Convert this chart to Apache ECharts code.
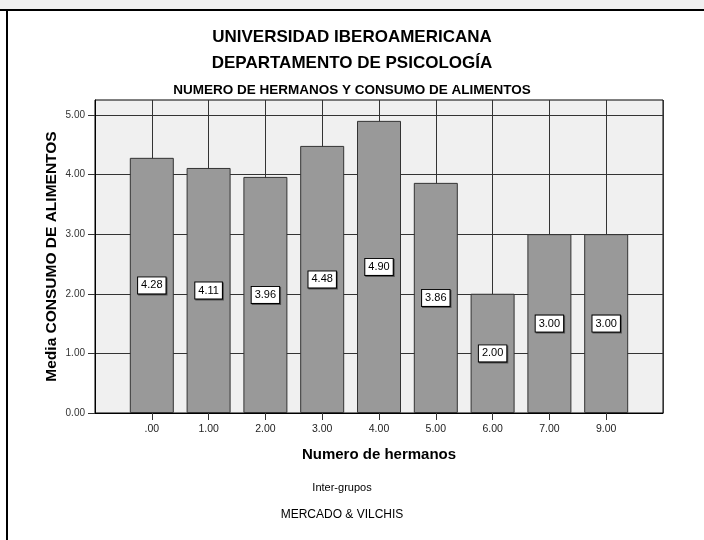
<!DOCTYPE html>
<html><head><meta charset="utf-8">
<script src="https://cdn.jsdelivr.net/npm/echarts@6/dist/echarts.min.js"></script>
<style>html,body{margin:0;padding:0;background:#fff}#c{width:704px;height:540px}</style>
</head><body><div id="c"></div>
<script>
const categories = ['.00','1.00','2.00','3.00','4.00','5.00','6.00','7.00','9.00'];
const means = [4.28, 4.11, 3.96, 4.48, 4.90, 3.86, 2.00, 3.00, 3.00];
const yTicks = [0, 1, 2, 3, 4, 5];

const axisCats = [''].concat(categories, ['']);
const barData = ['-'].concat(means, ['-']);
const FONT = '"Liberation Sans", Arial, sans-serif';

const chart = echarts.init(document.getElementById('c'), null, {renderer: 'canvas'});
chart.setOption({
  animation: false,
  backgroundColor: '#fff',
  textStyle: {fontFamily: FONT},
  title: [
    {text: 'UNIVERSIDAD IBEROAMERICANA', left: 'center', top: 24,
     textStyle: {fontFamily: FONT, fontSize: 17, fontWeight: 'bold', color: '#000'}},
    {text: 'DEPARTAMENTO DE PSICOLOGÍA', left: 'center', top: 50,
     textStyle: {fontFamily: FONT, fontSize: 17, fontWeight: 'bold', color: '#000'}},
    {text: 'NUMERO DE HERMANOS Y CONSUMO DE ALIMENTOS', left: 'center', top: 78,
     textStyle: {fontFamily: FONT, fontSize: 13.5, fontWeight: 'bold', color: '#000'}}
  ],
  graphic: [
    {type: 'rect', shape: {x: 0, y: 0, width: 704, height: 9}, style: {fill: '#f0f0f0'}, silent: true},
    {type: 'rect', shape: {x: 0, y: 9, width: 704, height: 2}, style: {fill: '#000'}, silent: true},
    {type: 'rect', shape: {x: 6, y: 9, width: 2, height: 531}, style: {fill: '#000'}, silent: true},
    {type: 'text', x: 342, y: 488, style: {text: 'Inter-grupos', fontFamily: FONT, fontSize: 11, fill: '#000', textAlign: 'center', textVerticalAlign: 'middle'}},
    {type: 'text', x: 342, y: 515, style: {text: 'MERCADO & VILCHIS', fontFamily: FONT, fontSize: 12, fill: '#000', textAlign: 'center', textVerticalAlign: 'middle'}}
  ],
  grid: {left: 95, right: 41, top: 100, bottom: 127, show: true,
         backgroundColor: '#f0f0f0', borderColor: '#000', borderWidth: 1},
  xAxis: {
    type: 'category', data: axisCats, boundaryGap: false,
    name: 'Numero de hermanos', nameLocation: 'middle', nameGap: 34,
    nameTextStyle: {fontFamily: FONT, fontSize: 15, fontWeight: 'bold', color: '#000'},
    axisLine: {show: true, lineStyle: {color: '#000', width: 1}},
    axisTick: {show: true, length: 7, lineStyle: {color: '#333'}, interval: function (i) { return i > 0 && i < axisCats.length - 1; }},
    axisLabel: {interval: 0, fontFamily: FONT, fontSize: 10.5, color: '#222', margin: 11},
    splitLine: {show: true, interval: 0, lineStyle: {color: '#333', width: 1}}
  },
  yAxis: {
    type: 'value', min: 0, max: 5.25, interval: 1,
    name: 'Media CONSUMO DE ALIMENTOS', nameLocation: 'middle', nameRotate: 90, nameGap: 35,
    nameMoveOverlap: false,
    nameTextStyle: {fontFamily: FONT, fontSize: 15.5, fontWeight: 'bold', color: '#000'},
    axisLine: {show: true, lineStyle: {color: '#000'}},
    axisTick: {show: true, length: 7, customValues: yTicks, lineStyle: {color: '#333'}},
    axisLabel: {customValues: yTicks, fontFamily: FONT, fontSize: 10, color: '#333', margin: 10,
                formatter: function (v) { return v.toFixed(2); }},
    splitLine: {show: true, lineStyle: {color: '#333', width: 1}}
  },
  series: [{
    type: 'bar', data: barData, barWidth: 44,
    itemStyle: {color: '#999999', borderColor: '#333', borderWidth: 1},
    label: {show: true, position: 'inside', formatter: function (p) { return Number(p.value).toFixed(2); },
            fontFamily: FONT, fontSize: 11, color: '#000', backgroundColor: '#fff',
            borderColor: '#000', borderWidth: 1, padding: [3, 3, 2, 3],
            shadowColor: 'rgba(0,0,0,0.45)', shadowOffsetX: 1, shadowOffsetY: 1, shadowBlur: 0}
  }]
});
</script></body></html>
